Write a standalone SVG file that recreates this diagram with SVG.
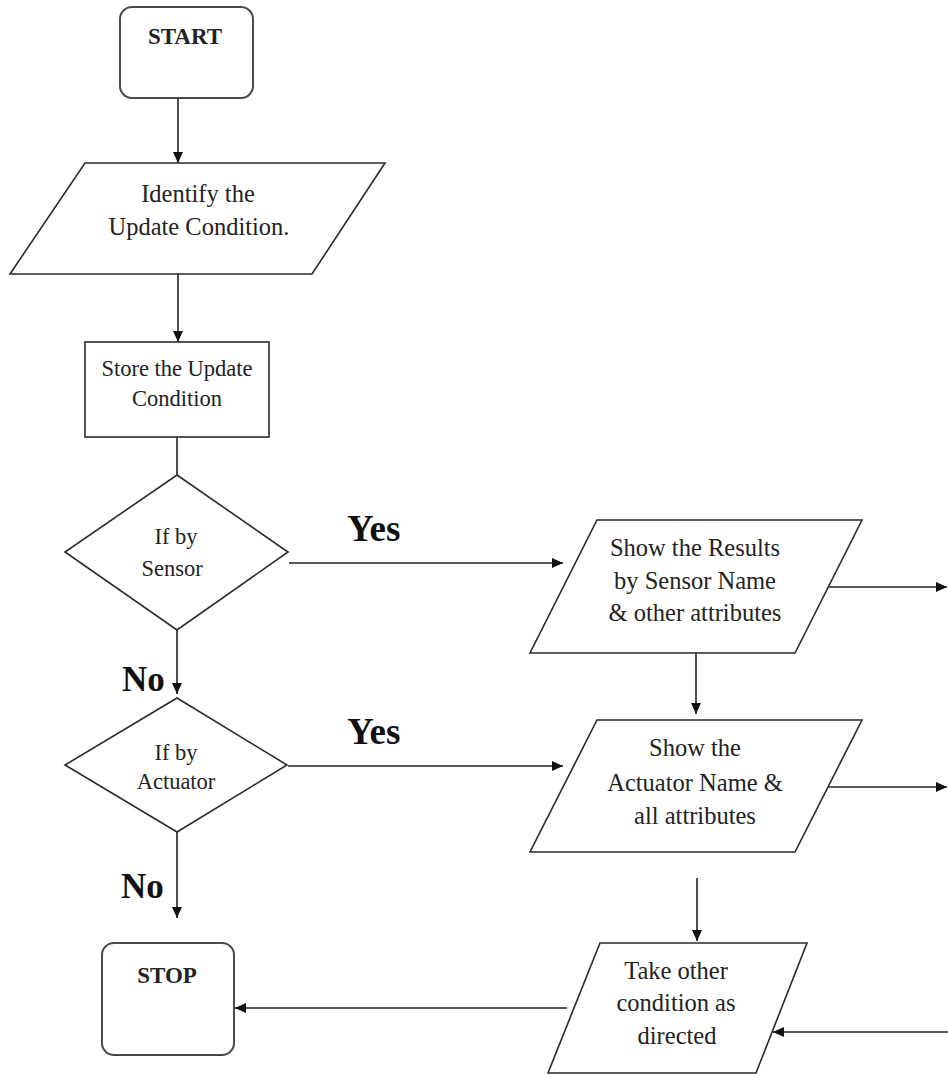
<svg xmlns="http://www.w3.org/2000/svg" width="948" height="1075" viewBox="0 0 948 1075">
  <style>
    .shape { fill: #ffffff; stroke: #2a2a2a; stroke-width: 1.6; }
    .term { fill: #ffffff; stroke: #4a4a4a; stroke-width: 2; }
    .txt { font-family: "Liberation Serif", serif; font-weight: normal; fill: #222222; text-anchor: middle; }
    .body { font-size: 24.5px; }
    .small { font-size: 22.5px; }
    .head { font-size: 23px; font-weight: bold; }
    .lbl { font-family: "Liberation Serif", serif; font-weight: bold; fill: #111111; }
    .yes { font-size: 37px; }
    .no { font-size: 35px; }
    .conn { fill: none; stroke: #222222; stroke-width: 1.6; }
    .conn.arrow { marker-end: url(#head); }
  </style>
  <defs>
    <marker id="head" markerUnits="userSpaceOnUse" markerWidth="11" markerHeight="10" refX="11" refY="5" orient="auto">
      <path d="M0,0 L11,5 L0,10 z" fill="#111111"/>
    </marker>
  </defs>
  <rect width="948" height="1075" fill="#ffffff"/>

  <!-- connectors -->
  <g id="connectors">
    <path class="conn arrow" d="M178,98 V163"/>
    <path class="conn arrow" d="M178,274 V342"/>
    <path class="conn" d="M177,437 V475"/>
    <path class="conn arrow" d="M289,563 H563"/>
    <path class="conn arrow" d="M177,630 V694"/>
    <path class="conn arrow" d="M288,766 H563"/>
    <path class="conn arrow" d="M177,832 V918"/>
    <path class="conn arrow" d="M696,653 V714"/>
    <path class="conn arrow" d="M697,878 V941"/>
    <path class="conn arrow" d="M828,587 H947"/>
    <path class="conn arrow" d="M828,787 H947"/>
    <path class="conn arrow" d="M948,1032 H773"/>
    <path class="conn arrow" d="M567,1008 H235"/>
    <text class="lbl yes" x="347" y="541">Yes</text>
    <text class="lbl yes" x="347" y="744">Yes</text>
    <text class="lbl no" x="122" y="691">No</text>
    <text class="lbl no" x="121" y="898">No</text>
  </g>

  <g id="start">
    <rect class="term" x="120" y="7" width="133" height="91" rx="12"/>
    <text class="txt head" x="185" y="44">START</text>
  </g>

  <g id="identify">
    <polygon class="shape" points="85,163 385,163 312,274 10,274"/>
    <text class="txt body" x="198" y="202">Identify the</text>
    <text class="txt body" x="199" y="235">Update Condition.</text>
  </g>

  <g id="store">
    <rect class="shape" x="85" y="342" width="184" height="95"/>
    <text class="txt small" x="177" y="376">Store the Update</text>
    <text class="txt small" x="177" y="406">Condition</text>
  </g>

  <g id="by-sensor">
    <polygon class="shape" points="177,475 288,552 177,630 65,552"/>
    <text class="txt small" x="176" y="544">If by</text>
    <text class="txt small" x="172" y="576">Sensor</text>
  </g>

  <g id="by-actuator">
    <polygon class="shape" points="177,698 287,765 177,832 65,765"/>
    <text class="txt small" x="176" y="760">If by</text>
    <text class="txt small" x="176" y="789">Actuator</text>
  </g>

  <g id="sensor-results">
    <polygon class="shape" points="597,520 862,520 795,653 530,653"/>
    <text class="txt body" x="695" y="556">Show the Results</text>
    <text class="txt body" x="695" y="589">by Sensor Name</text>
    <text class="txt body" x="695" y="621">&amp; other attributes</text>
  </g>

  <g id="actuator-results">
    <polygon class="shape" points="597,720 862,720 795,852 530,852"/>
    <text class="txt body" x="695" y="756">Show the</text>
    <text class="txt body" x="695" y="791">Actuator Name &amp;</text>
    <text class="txt body" x="695" y="824">all attributes</text>
  </g>

  <g id="other-condition">
    <polygon class="shape" points="600,943 807,943 756,1073 548,1073"/>
    <text class="txt body" x="676" y="979">Take other</text>
    <text class="txt body" x="676" y="1011">condition as</text>
    <text class="txt body" x="677" y="1044">directed</text>
  </g>

  <g id="stop">
    <rect class="term" x="102" y="943" width="132" height="112" rx="12"/>
    <text class="txt head" x="167" y="983">STOP</text>
  </g>
</svg>
